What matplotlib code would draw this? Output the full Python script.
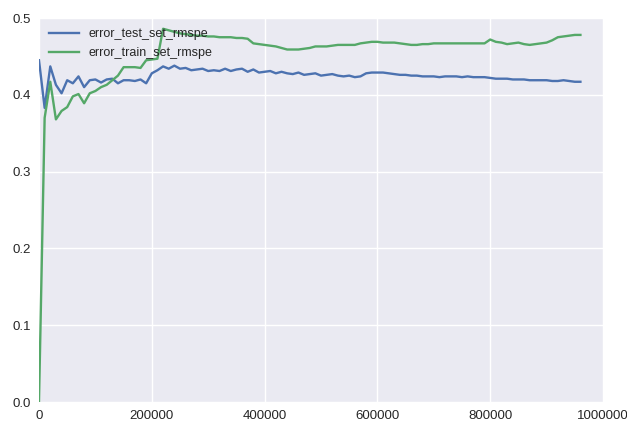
import numpy as np
import matplotlib
matplotlib.use("Agg")
import matplotlib.pyplot as plt

# Evaluated every 10000 iterations, 0 .. 960000
iterations = np.arange(0, 970000, 10000)

error_test_set_rmspe = [
    0.445, 0.383, 0.437, 0.413, 0.402, 0.419, 0.415, 0.424, 0.410, 0.419,
    0.420, 0.416, 0.420, 0.421, 0.415, 0.419, 0.419, 0.418, 0.420, 0.415,
    0.428, 0.432, 0.437, 0.434, 0.438, 0.434, 0.435, 0.432, 0.433, 0.434,
    0.431, 0.432, 0.431, 0.434, 0.431, 0.433, 0.434, 0.430, 0.433, 0.429,
    0.430, 0.431, 0.428, 0.430, 0.428, 0.427, 0.429, 0.426, 0.427, 0.428,
    0.425, 0.426, 0.427, 0.425, 0.424, 0.425, 0.423, 0.424, 0.428, 0.429,
    0.429, 0.429, 0.428, 0.427, 0.426, 0.426, 0.425, 0.425, 0.424, 0.424,
    0.424, 0.423, 0.424, 0.424, 0.424, 0.423, 0.424, 0.423, 0.423, 0.423,
    0.422, 0.421, 0.421, 0.421, 0.420, 0.420, 0.420, 0.419, 0.419, 0.419,
    0.419, 0.418, 0.418, 0.419, 0.418, 0.417, 0.417,
]

error_train_set_rmspe = [
    0.000, 0.370, 0.417, 0.368, 0.379, 0.384, 0.398, 0.401, 0.389, 0.402,
    0.405, 0.410, 0.413, 0.419, 0.425, 0.436, 0.436, 0.436, 0.435, 0.445,
    0.446, 0.447, 0.486, 0.484, 0.482, 0.480, 0.479, 0.478, 0.477, 0.477,
    0.476, 0.476, 0.475, 0.475, 0.475, 0.474, 0.474, 0.473, 0.467, 0.466,
    0.465, 0.464, 0.463, 0.461, 0.459, 0.459, 0.459, 0.460, 0.461, 0.463,
    0.463, 0.463, 0.464, 0.465, 0.465, 0.465, 0.465, 0.467, 0.468, 0.469,
    0.469, 0.468, 0.468, 0.468, 0.467, 0.466, 0.465, 0.465, 0.466, 0.466,
    0.467, 0.467, 0.467, 0.467, 0.467, 0.467, 0.467, 0.467, 0.467, 0.467,
    0.472, 0.469, 0.468, 0.466, 0.467, 0.468, 0.466, 0.465, 0.466, 0.467,
    0.468, 0.471, 0.475, 0.476, 0.477, 0.478, 0.478,
]

# darkgrid look: grey panel, white grid, no spines
plt.rcParams.update({
    "font.family": ["Liberation Sans", "DejaVu Sans"],
    "font.size": 10,
    "axes.facecolor": "#EAEAF2",
    "axes.edgecolor": "white",
    "axes.linewidth": 0,
    "grid.color": "white",
    "grid.linewidth": 1.0,
    "xtick.color": "#262626",
    "ytick.color": "#262626",
    "text.color": "#262626",
    "xtick.major.size": 0,
    "ytick.major.size": 0,
})

fig = plt.figure(figsize=(6.27, 4.23), dpi=100)
ax = fig.add_axes([0.0622, 0.0496, 0.8995, 0.9078])

ax.plot(iterations, error_test_set_rmspe, color="#4C72B0", lw=1.7,
        label="error_test_set_rmspe")
ax.plot(iterations, error_train_set_rmspe, color="#55A868", lw=1.7,
        label="error_train_set_rmspe")

ax.set_xlim(0, 1000000)
ax.set_ylim(0, 0.5)
ax.set_xticks(np.arange(0, 1000001, 200000))
ax.set_yticks(np.arange(0, 0.51, 0.1))
ax.ticklabel_format(style="plain", axis="x", useOffset=False)
ax.grid(True)
ax.set_axisbelow(True)
for spine in ax.spines.values():
    spine.set_visible(False)
ax.tick_params(axis="both", pad=6, labelsize=9.5)

ax.legend(loc="upper left", frameon=False, fontsize=9, handlelength=2.4,
          borderaxespad=0.4, labelspacing=0.55)

fig.savefig("out.png", dpi=100)
